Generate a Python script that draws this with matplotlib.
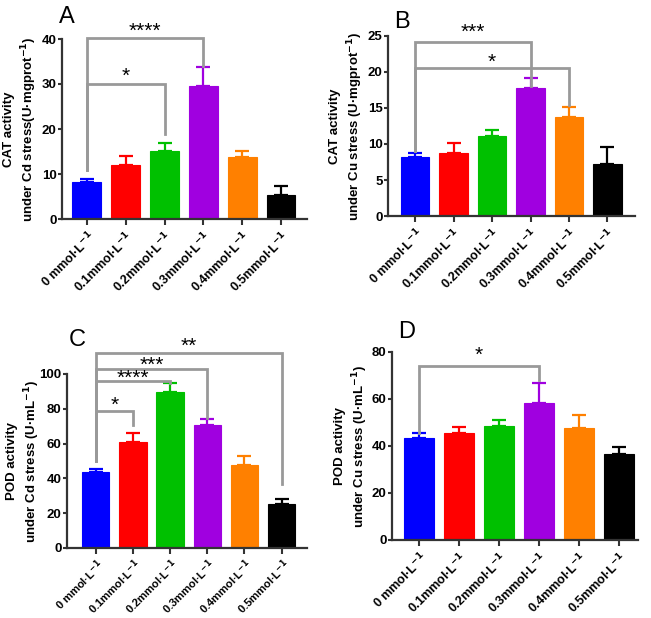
import numpy as np
import matplotlib.pyplot as plt
from matplotlib.transforms import offset_copy

plt.rcParams['font.family'] = ['Liberation Sans', 'DejaVu Sans']
plt.rcParams['font.weight'] = 'bold'
plt.rcParams['mathtext.default'] = 'bf'

# 处理浓度
groups = ["0 mmol·L$^{-1}$", "0.1mmol·L$^{-1}$", "0.2mmol·L$^{-1}$",
          "0.3mmol·L$^{-1}$", "0.4mmol·L$^{-1}$", "0.5mmol·L$^{-1}$"]
colors = ["#0000ff", "#ff0000", "#00c000", "#a000e0", "#ff8000", "#000000"]

# A: CAT, Cd
cat_cd = [8.3, 12.1, 15.2, 29.5, 13.8, 5.4]
cat_cd_err = [0.5, 1.9, 1.8, 4.3, 1.3, 2.0]
# B: CAT, Cu
cat_cu = [8.2, 8.8, 11.1, 17.8, 13.8, 7.2]
cat_cu_err = [0.5, 1.3, 0.8, 1.3, 1.3, 2.4]
# C: POD, Cd
pod_cd = [43.5, 61.0, 89.5, 70.5, 47.5, 25.5]
pod_cd_err = [2.0, 5.0, 5.5, 3.5, 5.5, 2.5]
# D: POD, Cu
pod_cu = [43.5, 45.5, 48.5, 58.3, 47.7, 36.8]
pod_cu_err = [2.0, 2.5, 2.5, 8.7, 5.3, 2.8]

# 有意差ブラケット: (右のバー, 横線の高さ, 左脚の下端, 右脚の下端, 星, 星の高さ)
sig_a = [(3, 40.2, 11.0, 34.0, "****", 42.4), (2, 30.0, 11.0, 18.8, "*", 32.4)]
sig_b = [(3, 24.2, 9.0, 18.0, "***", 26.0), (4, 20.6, 9.0, 15.4, "*", 21.8)]
sig_c = [(5, 112, 50, 37, "**", 118), (3, 103, 50, 75, "***", 107),
         (2, 96, 50, 95, "****", 99.3), (1, 79, 50, 70.5, "*", 84)]
sig_d = [(3, 74.2, 45.5, 68, "*", 80)]

fig = plt.figure(figsize=(6.51, 6.18), dpi=100)
W, H = 651, 618


def make_ax(left, right, top, bottom, xlim):
    ax = fig.add_axes([left / W, 1 - bottom / H, (right - left) / W, (bottom - top) / H])
    ax.set_xlim(*xlim)
    return ax


def draw_panel(ax, vals, errs, sigs, ylim, yticks, ylabel, label_x, letter, letter_xy,
               xfs=9, xpad=3):
    x = np.arange(len(vals))
    ax.bar(x, vals, width=0.74, color=colors, edgecolor=colors, linewidth=0.8, zorder=2)
    for xi, v, e, c in zip(x, vals, errs, colors):
        ax.errorbar(xi, v, yerr=[[0], [e]], color=c, capsize=5, capthick=1.6,
                    elinewidth=1.6, zorder=1)
    # 星はグリフの中心が指定した高さに来るように少し下げる
    star_tr = offset_copy(ax.transData, fig=fig, x=0, y=-9, units="dots")
    for right, h, lo_l, lo_r, stars, sy in sigs:
        ax.plot([0, 0, right, right], [lo_l, h, h, lo_r], color="#999999",
                lw=2.0, clip_on=False, zorder=3, solid_joinstyle="miter")
        ax.text(right / 2, sy, stars, ha="center", va="baseline", transform=star_tr,
                fontsize=15, fontweight="normal", clip_on=False)
    ax.set_ylim(*ylim)
    ax.set_yticks(yticks)
    ax.set_xticks(x)
    ax.set_xticklabels(groups, rotation=45, ha="right", rotation_mode="anchor",
                       fontsize=xfs, fontweight="bold")
    ax.tick_params(axis="y", labelsize=9.5, width=1.5, length=3, color="#333333", pad=1)
    ax.tick_params(axis="x", width=1.5, length=4, color="#333333", pad=xpad)
    for s in ["top", "right"]:
        ax.spines[s].set_visible(False)
    for s in ["left", "bottom"]:
        ax.spines[s].set_linewidth(1.6)
        ax.spines[s].set_color("#333333")
    ax.set_ylabel(ylabel, fontsize=9.5, fontweight="bold", linespacing=1.3)
    bbox = ax.get_position()
    ax.yaxis.set_label_coords(label_x / (bbox.width * W), 0.5)
    fig.text(letter_xy[0] / W, 1 - letter_xy[1] / H, letter, fontsize=17,
             fontweight="normal", ha="center", va="center")


axA = make_ax(62, 307, 39, 219, (-0.64, 5.67))
draw_panel(axA, cat_cd, cat_cd_err, sig_a, (0, 40), [0, 10, 20, 30, 40],
           "CAT activity\nunder Cd stress(U·mgprot$^{-1}$)", -23, "A", (67, 17))

axB = make_ax(388, 635, 36, 216, (-0.71, 5.72))
draw_panel(axB, cat_cu, cat_cu_err, sig_b, (0, 25), [0, 5, 10, 15, 20, 25],
           "CAT activity\nunder Cu stress (U·mgprot$^{-1}$)", -23, "B", (402, 22))

axC = make_ax(67, 307, 374, 548, (-0.77, 5.68))
draw_panel(axC, pod_cd, pod_cd_err, sig_c, (0, 100), [0, 20, 40, 60, 80, 100],
           "POD activity\nunder Cd stress (U·mL$^{-1}$)", -25, "C", (77, 340),
           xfs=8, xpad=2)

axD = make_ax(392, 638, 352, 540, (-0.68, 5.48))
draw_panel(axD, pod_cu, pod_cu_err, sig_d, (0, 80), [0, 20, 40, 60, 80],
           "POD activity\nunder Cu stress (U·mL$^{-1}$)", -22, "D", (407, 332))

fig.savefig("out.png", dpi=100)
